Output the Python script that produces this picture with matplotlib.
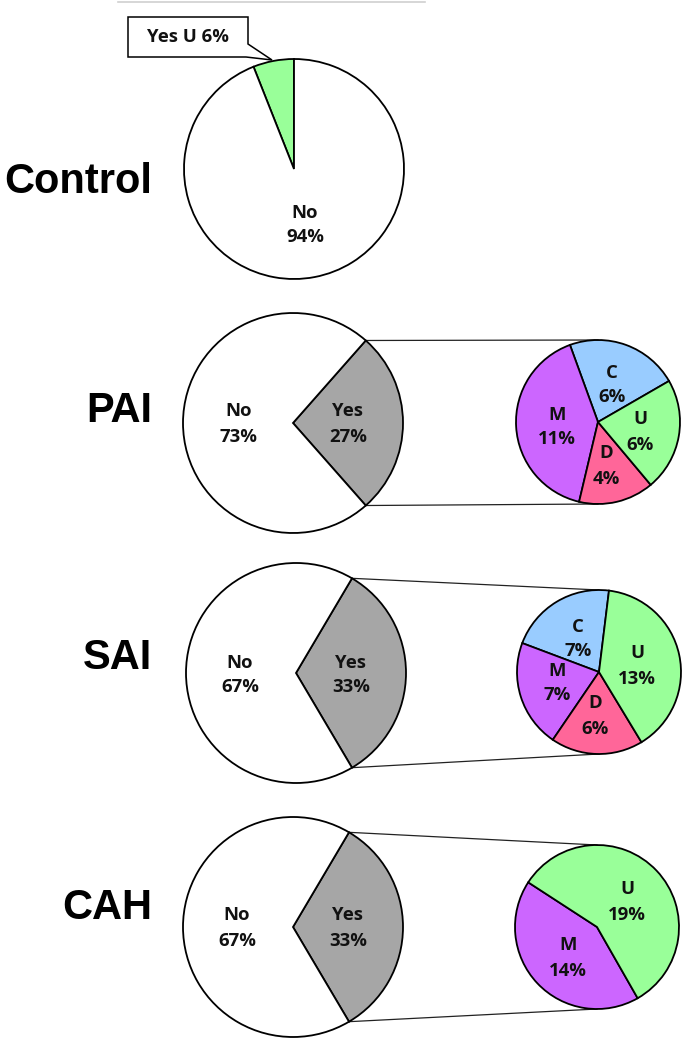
import matplotlib
matplotlib.use("Agg")
import matplotlib.pyplot as plt
import numpy as np
from matplotlib.patches import Polygon

# ---------------- data ----------------
groups = ["Control", "PAI", "SAI", "CAH"]
main_no = [94, 73, 67, 67]
main_yes = [6, 27, 33, 33]

pai_cats = ["C", "M", "D", "U"]
pai_vals = [6, 11, 4, 6]
sai_cats = ["C", "M", "D", "U"]
sai_vals = [7, 7, 6, 13]
cah_cats = ["M", "U"]
cah_vals = [14, 19]
control_yes_cat = "U"

cat_colors = {"C": "#99CCFF", "M": "#CC66FF", "D": "#FF6699", "U": "#99FF99"}
yes_gray = "#A6A6A6"

# ---------------- layout (pixel coords, y down) ----------------
W, H = 685, 1042
fig = plt.figure(figsize=(W / 100, H / 100), dpi=100)
ax = fig.add_axes([0, 0, 1, 1])
ax.set_xlim(0, W)
ax.set_ylim(0, H)
ax.set_aspect("equal")
ax.axis("off")


def Y(py):
    return H - py


small_font = dict(family=["Open Sans", "DejaVu Sans"], fontweight="bold",
                  fontsize=13.3, color="#111111")
big_font = dict(family=["Liberation Sans", "DejaVu Sans"], fontweight="bold",
                fontsize=30, color="black")
edge = dict(edgecolor="black", linewidth=1.3)

# top gray rule
ax.plot([118, 425], [Y(2), Y(2)], color="#D0D0D0", lw=1.2)

main_centers = [(294, 169), (293, 423), (296, 673), (293, 927)]
main_r = 110
label_pos = [(152, 193), (152, 422), (152, 669), (152, 919)]

sec_centers = [None, (598, 422), (599, 672), (597, 927)]
sec_r = 82
sec_data = [None, (pai_cats, pai_vals, 30), (sai_cats, sai_vals, 83),
            (cah_cats, cah_vals, 147)]
sec_label_pos = [None,
                 {"C": (612, 385), "U": (640, 432), "D": (606, 466), "M": (557, 427)},
                 {"C": (578, 639), "U": (637, 666), "M": (557, 683), "D": (595, 716)},
                 {"U": (627, 902), "M": (568, 958)}]
no_label_pos = [(305, 225), (239, 424), (240, 675), (237, 928)]
yes_label_pos = [None, (348, 424), (351, 675), (348, 928)]


def two_line(x, y, top, bottom):
    ax.text(x, Y(y - 12.5), top, ha="center", va="center", **small_font)
    ax.text(x, Y(y + 12.5), bottom, ha="center", va="center", **small_font)


for i, g in enumerate(groups):
    cx, cy = main_centers[i]
    no, yes = main_no[i], main_yes[i]
    lx, ly = label_pos[i]
    ax.text(lx, Y(ly), g, ha="right", va="baseline", **big_font)

    if i == 0:
        ax.pie([yes, no], colors=[cat_colors[control_yes_cat], "white"],
               startangle=90, counterclock=True, center=(cx, Y(cy)),
               radius=main_r, wedgeprops=edge, frame=True)
        two_line(*no_label_pos[i], "No", f"{no}%")
        # callout box
        pts = [(128, 17), (248, 17), (248, 44), (272, 60), (246, 57), (128, 57)]
        ax.add_patch(Polygon([(x, Y(y)) for x, y in pts], closed=True,
                             facecolor="white", edgecolor="black", lw=1.1,
                             zorder=5))
        ax.text(188, Y(37), f"Yes {control_yes_cat} {yes}%", ha="center",
                va="center", zorder=6, **small_font)
        continue

    half = yes * 3.6 / 2
    ax.pie([yes, no], colors=[yes_gray, "white"], startangle=-half,
           counterclock=True, center=(cx, Y(cy)), radius=main_r,
           wedgeprops=edge, frame=True)
    two_line(*no_label_pos[i], "No", f"{no}%")
    two_line(*yes_label_pos[i], "Yes", f"{yes}%")

    # secondary pie
    sx, sy = sec_centers[i]
    cats, vals, start = sec_data[i]
    ax.pie(vals, colors=[cat_colors[c] for c in cats], startangle=start,
           counterclock=True, center=(sx, Y(sy)), radius=sec_r,
           wedgeprops=edge, frame=True)
    for c, v in zip(cats, vals):
        px, py = sec_label_pos[i][c]
        two_line(px, py, c, f"{v}%")

    # connector lines
    th = np.deg2rad(half)
    x0 = cx + main_r * np.cos(th)
    ax.plot([x0, sx], [Y(cy) + main_r * np.sin(th), Y(sy) + sec_r],
            color="#222222", lw=0.9, zorder=0)
    ax.plot([x0, sx], [Y(cy) - main_r * np.sin(th), Y(sy) - sec_r],
            color="#222222", lw=0.9, zorder=0)

ax.set_xlim(0, W)
ax.set_ylim(0, H)
ax.axis("off")
fig.savefig("out.png", dpi=100, facecolor="white")
